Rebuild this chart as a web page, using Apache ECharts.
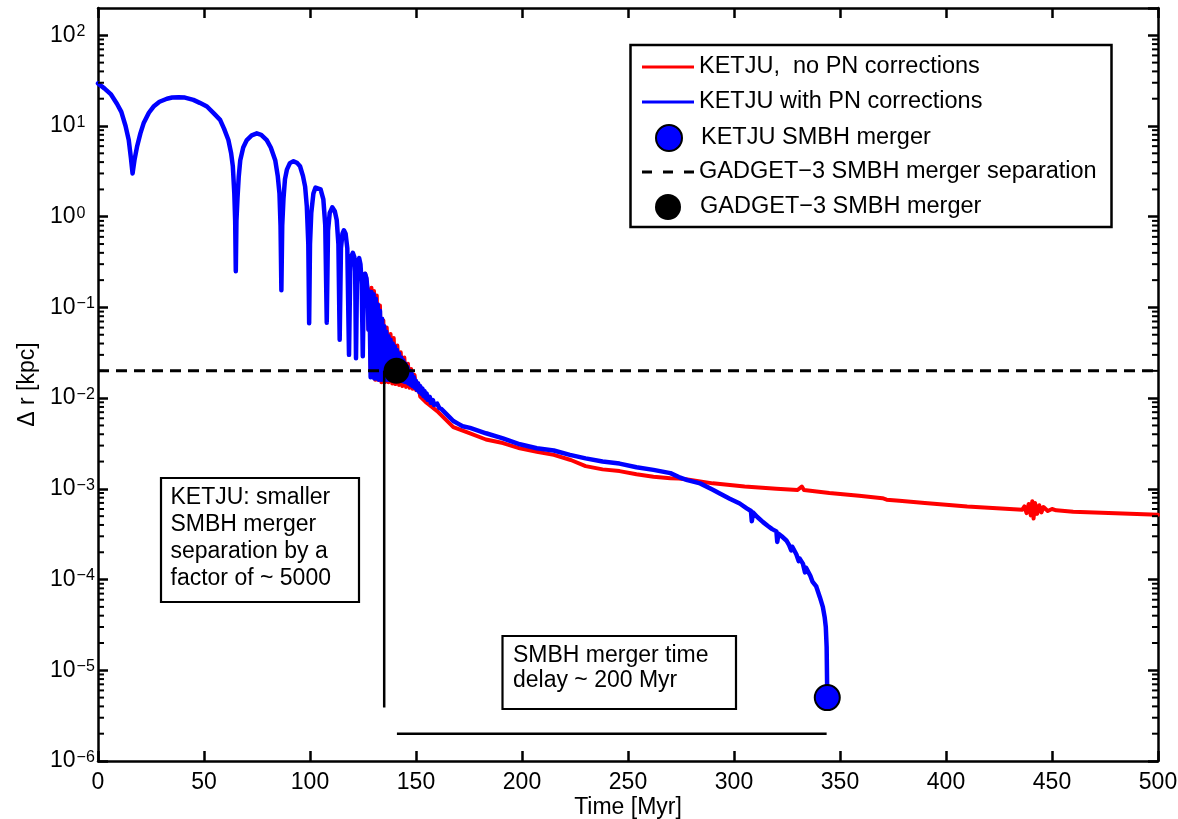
<!DOCTYPE html>
<html><head><meta charset="utf-8">
<script src="https://cdn.jsdelivr.net/npm/echarts@6/dist/echarts.min.js"></script>
<style>html,body{margin:0;padding:0;background:#fff}#c{width:1178px;height:819px}</style>
</head><body><div id="c"></div>
<script>
// ---------- data ----------
const xTicks = [0, 50, 100, 150, 200, 250, 300, 350, 400, 450, 500];
const yRange = [1e-6, 200];

// KETJU with PN corrections (blue)
const blueT = [0,3,6,9,11,13,14.5,15.5,16.3,17.2,18.4,20,21.5,24,26.2,29,32.5,35,38,41,45,48,51.4,55,57.6,59.5,61.5,62.8,63.6,64.3,64.7,65.0,65.3,65.8,66.4,67.1,68.5,70.2,72.5,74.9,77,79.6,81.5,83.6,84.8,85.6,86.1,86.5,86.9,87.5,88.2,89.1,90.5,92.2,94,95.3,96.7,97.7,98.5,99.2,99.6,100.0,100.6,101.6,102.6,103.5,105.0,106.3,107.2,107.9,108.5,109.3,110.5,111.7,112.6,113.4,114.0,114.6,115.3,116.0,116.8,117.6,118.4,119.0,119.6,120.2,120.9,121.3,121.7,122.2,122.7,123.2,123.8,124.4,124.9,125.4,126.0,126.6,127.2,127.6,128.0,
  128.6,129.0,129.5,130.0,130.5,131.0,131.5,132.0,132.5,133.0,133.5,134.0,134.5,135.0,135.5,136.0,136.5,137.0,137.5,138.0,138.5,139.0,139.5,140.0,140.5,141.0,141.5,142.0,142.5,143.0,143.5,144.0,144.5,145.0,145.5,146.0,146.5,147.0,147.5,148.0,148.5,149.0,149.5,150.0,150.5,151.0,151.5,152.0,
  152.5,153,153.5,154,154.5,155,155.5,156.5,157,158,158.5,160,161,162,164,166,167.6,170,172,175.5,183,191,199,207,215,222.6,230,238,246,254,262,270,274,278,284,290,293.3,298,302.7,306,308,308.4,309,311,313.7,316,318,320,320.4,321,322.5,324.7,326,327,327.5,329.4,330.5,331,332.5,333.5,334,336,337,338.8,340.5,341.9,342.8,343.3,343.7,344.0];
const blueV = [29.5,26,22.5,17.5,14.3,10,7,4.5,3.0,4.2,5.9,8.3,10.7,14,16.4,18.5,20,20.6,20.8,20.6,19.4,18,16.4,13.5,11.7,9.3,7.0,5.0,3.6,1.8,0.9,0.25,0.9,1.6,2.8,4.2,5.8,7.0,7.9,8.3,8.0,7.0,5.8,4.2,2.8,1.8,0.8,0.155,0.8,1.6,2.6,3.3,3.9,4.1,3.9,3.6,2.8,2.15,1.3,0.5,0.067,0.5,1.1,1.8,2.1,2.2,2.0,1.55,0.8,0.068,0.7,1.1,1.27,1.15,0.92,0.5,0.044,0.45,0.65,0.71,0.65,0.45,0.030,0.28,0.37,0.40,0.36,0.25,0.0275,0.25,0.33,0.35,0.30,0.18,0.029,0.18,0.235,0.21,0.15,0.057,0.15,
  0.017,0.148,0.017,0.14,0.0165,0.125,0.0165,0.108,0.016,0.092,0.016,0.075,0.016,0.062,0.016,0.054,0.016,0.048,0.016,0.044,0.016,0.040,0.016,0.037,0.016,0.034,0.0158,0.031,0.0156,0.028,0.0155,0.026,0.0152,0.024,0.015,0.022,0.0145,0.020,0.014,0.0185,0.0135,0.017,0.013,0.0155,0.0123,0.0145,0.0117,0.0135,
  0.0112,0.0128,0.0106,0.012,0.0101,0.0113,0.0096,0.0103,0.0089,0.0095,0.0084,0.0087,0.0078,0.0076,0.0068,0.0061,0.0056,0.0052,0.0049,0.0047,0.0041,0.0036,0.0031,0.0028,0.00265,0.00237,0.00217,0.002,0.0019,0.00173,0.00162,0.00149,0.00135,0.00125,0.00115,0.00098,0.00089,0.00078,0.00069,0.00061,0.00057,0.00044,0.00055,0.00049,0.00043,0.00039,0.00036,0.00034,0.00026,0.00032,0.0003,0.00027,0.00024,0.00021,0.00023,0.00019,0.00016,0.00017,0.00015,0.00012,0.000135,0.00011,0.000095,0.000084,0.000064,0.00005,0.000038,0.00003,0.000018,0.000005];

// KETJU, no PN corrections (red) – identical to blue before ~126 Myr
const redT = [126.0,126.6,127.2,127.6,128.0,128.6,129.0,129.6,130.2,130.8,131.5,132.2,133.0,133.7,134.6,135.3,136.2,137,138,138.8,139.5,140.3,141.2,142,142.8,143.6,144.5,145.3,146.2,147,147.7,148.5,149.3,150.1,151,152,155,160,167.6,175.5,183,191,199,207,215,223,230,238,246,254,262,270,274,278,290,305,320,330,332,333,345,359,370,372,378,390,400,410,420,430,436,437,438,439,440,440.7,441.3,442,443,444,445,446,448,450,452,460,470,480,490,500];
const redV = [0.235,0.21,0.15,0.057,0.155,0.02,0.165,0.017,0.152,0.016,0.135,0.016,0.105,0.015,0.072,0.015,0.06,0.015,0.051,0.0145,0.046,0.0143,0.038,0.014,0.032,0.0136,0.028,0.0133,0.024,0.013,0.021,0.0127,0.018,0.0122,0.0145,0.0104,0.0089,0.0072,0.0048,0.0041,0.0035,0.0032,0.0028,0.00257,0.00237,0.00208,0.00178,0.00164,0.00157,0.00145,0.00136,0.00131,0.0013,0.00127,0.00115,0.00106,0.001,0.00097,0.00106,0.00097,0.0009,0.00084,0.00079,0.00076,0.00074,0.0007,0.00067,0.00064,0.00062,0.0006,0.00059,0.00064,0.00054,0.00068,0.00051,0.00073,0.00047,0.0007,0.00053,0.00066,0.00055,0.00063,0.00057,0.0006,0.00058,0.00056,0.00055,0.00054,0.00053,0.00052];

const gadgetSeparation = 0.02;           // dashed line level (kpc)
const gadgetMerger = [140.8, 0.02];      // black dot
const ketjuMerger = [344.0, 5e-6];       // blue dot
const separationBar = [135, 3.9e-6, 0.02];   // t, from, to
const delayBar = [141, 343.7, 2e-6];         // from, to, level

const names = ['KETJU,  no PN corrections', 'KETJU with PN corrections', 'KETJU SMBH merger',
               'GADGET\u22123 SMBH merger separation', 'GADGET\u22123 SMBH merger'];

// ---------- chart ----------
const FONT = '"Liberation Sans", Arial, Helvetica, sans-serif';
const BLK = '#000';
const zip = (a, b) => a.map((t, i) => [t, b[i]]);

const minorVals = [];
for (let n = -6; n <= 1; n++) for (let k = 2; k <= 9; k++) minorVals.push(k * Math.pow(10, n));

const axisLineStyle = {color: BLK, width: 2.5};
function supLabel(v) {
  const lg = Math.log10(v), e = Math.round(lg);
  if (Math.abs(lg - e) > 0.01 || v > 150) return '';
  return '{b|10}{s|' + (e < 0 ? '\u2212' + (-e) : String(e)) + '}';
}

const legendText = {fontFamily: FONT, fontSize: 23.5, color: BLK, lineHeight: 26};
const legendBase = {padding: 0, itemGap: 0, selectedMode: false, orient: 'horizontal'};
const rowC = [67, 102, 137, 172, 207];

const option = {
  animation: false,
  backgroundColor: '#fff',
  textStyle: {fontFamily: FONT},
  grid: {left: 98, right: 20, top: 8, bottom: 58, containLabel: false, outerBoundsMode: 'none'},
  xAxis: [
    {type: 'value', min: 0, max: 500, interval: 50, position: 'bottom',
     name: 'Time [Myr]', nameLocation: 'middle', nameGap: 35, nameMoveOverlap: false,
     nameTextStyle: {fontSize: 23, color: BLK, fontFamily: FONT},
     axisLine: {show: true, onZero: false, lineStyle: axisLineStyle},
     axisTick: {show: true, inside: true, length: 10, lineStyle: {color: BLK, width: 2.5}},
     axisLabel: {show: true, margin: 10, fontSize: 23, color: BLK, fontFamily: FONT},
     splitLine: {show: false}},
    {type: 'value', min: 0, max: 500, interval: 50, position: 'top',
     axisLine: {show: true, onZero: false, lineStyle: axisLineStyle},
     axisTick: {show: true, inside: true, length: 10, lineStyle: {color: BLK, width: 2.5}},
     axisLabel: {show: false}, splitLine: {show: false}}
  ],
  yAxis: [
    {type: 'log', logBase: 10, min: yRange[0], max: yRange[1], splitNumber: 10, position: 'left',
     name: '\u0394 r [kpc]', nameLocation: 'middle', nameGap: 59, nameMoveOverlap: false,
     nameTextStyle: {fontSize: 23, color: BLK, fontFamily: FONT},
     axisLine: {show: true, onZero: false, lineStyle: axisLineStyle},
     axisTick: {show: true, inside: true, length: 10, lineStyle: {color: BLK, width: 2.5}},
     axisLabel: {show: true, align: 'left', margin: 48, showMaxLabel: false, formatter: supLabel,
       rich: {
         b: {fontSize: 23, fontFamily: FONT, color: BLK, lineHeight: 23, padding: [3, 0, 0, 0], verticalAlign: 'bottom'},
         s: {fontSize: 16, fontFamily: FONT, color: BLK, lineHeight: 16, padding: [0, 0, 0, 1], verticalAlign: 'top'}
       }},
     splitLine: {show: false}},
    {type: 'log', logBase: 10, min: yRange[0], max: yRange[1], splitNumber: 10, position: 'right',
     axisLine: {show: true, onZero: false, lineStyle: axisLineStyle},
     axisTick: {show: true, inside: true, length: 10, lineStyle: {color: BLK, width: 2.5}},
     axisLabel: {show: false}, splitLine: {show: false}}
  ],
  legend: [
    Object.assign({}, legendBase, {left: 642, top: rowC[0] - 13, itemWidth: 52, itemHeight: 3, textStyle: legendText,
      data: [{name: names[0], icon: 'rect'}]}),
    Object.assign({}, legendBase, {left: 642, top: rowC[1] - 13, itemWidth: 52, itemHeight: 3, textStyle: legendText,
      data: [{name: names[1], icon: 'rect'}]}),
    Object.assign({}, legendBase, {left: 655, top: rowC[2] - 13, itemWidth: 26, itemHeight: 26,
      textStyle: Object.assign({}, legendText, {padding: [0, 0, 0, 14]}),
      data: [{name: names[2], icon: 'circle'}]}),
    Object.assign({}, legendBase, {left: 642, top: rowC[3] - 13, itemWidth: 52, itemHeight: 3, textStyle: legendText,
      data: [{name: names[3], icon: 'path://M0,0h10v3h-10zM21,0h10v3h-10zM42,0h10v3h-10z'}]}),
    Object.assign({}, legendBase, {left: 655, top: rowC[4] - 13, itemWidth: 26, itemHeight: 26,
      textStyle: Object.assign({}, legendText, {padding: [0, 0, 0, 14]}),
      data: [{name: names[4], icon: 'circle'}]})
  ],
  graphic: [
    {type: 'rect', z: 3, shape: {x: 630.5, y: 45, width: 481, height: 182},
     style: {fill: '#fff', stroke: BLK, lineWidth: 2.5}},
    {type: 'group', z: 5, children: [
      {type: 'rect', shape: {x: 161, y: 478, width: 198, height: 124}, style: {fill: '#fff', stroke: BLK, lineWidth: 2.2}},
      {type: 'text', x: 170.5, y: 484, style: {text: 'KETJU: smaller\nSMBH merger\nseparation by a\nfactor of ~ 5000',
        fontSize: 23, fontFamily: FONT, fill: BLK, lineHeight: 27, verticalAlign: 'top'}}
    ]},
    {type: 'group', z: 5, children: [
      {type: 'rect', shape: {x: 502.5, y: 636, width: 233.5, height: 73}, style: {fill: '#fff', stroke: BLK, lineWidth: 2.2}},
      {type: 'text', x: 513, y: 643, style: {text: 'SMBH merger time\ndelay ~ 200 Myr',
        fontSize: 23, fontFamily: FONT, fill: BLK, lineHeight: 25, verticalAlign: 'top'}}
    ]}
  ],
  series: [
    {name: names[0], type: 'line', color: '#ff0000', data: zip(redT, redV), showSymbol: false, symbol: 'none',
     lineStyle: {color: '#ff0000', width: 4, join: 'round', cap: 'round'}, z: 2, silent: true},
    {name: names[1], type: 'line', color: '#0000ff', data: zip(blueT, blueV), showSymbol: false, symbol: 'none',
     lineStyle: {color: '#0000ff', width: 4.5, join: 'round', cap: 'round'}, z: 3, silent: true},
    {name: names[3], type: 'line', color: BLK, itemStyle: {color: BLK},
     data: [[0, gadgetSeparation], [500, gadgetSeparation]], showSymbol: false, symbol: 'none',
     lineStyle: {color: BLK, width: 3, type: [11, 7]}, z: 4, silent: true},
    {type: 'line', data: [[separationBar[0], separationBar[1]], [separationBar[0], separationBar[2]]],
     showSymbol: false, symbol: 'none', lineStyle: {color: BLK, width: 2.5}, z: 4, silent: true},
    {type: 'line', data: [[delayBar[0], delayBar[2]], [delayBar[1], delayBar[2]]],
     showSymbol: false, symbol: 'none', lineStyle: {color: BLK, width: 2.5}, z: 4, silent: true},
    {name: names[4], type: 'scatter', data: [gadgetMerger], symbolSize: 26,
     itemStyle: {color: BLK, opacity: 1}, z: 6, silent: true},
    {name: names[2], type: 'scatter', data: [ketjuMerger], symbolSize: 25,
     itemStyle: {color: '#0000ff', borderColor: BLK, borderWidth: 2, opacity: 1}, z: 6, silent: true},
    {type: 'custom', silent: true, z: 7, data: minorVals.map(v => [0, v]),
     renderItem: function (params, api) {
       const v = api.value(1);
       const pL = api.coord([0, v]), pR = api.coord([500, v]);
       return {type: 'group', children: [
         {type: 'line', shape: {x1: pL[0], y1: pL[1], x2: pL[0] + 6, y2: pL[1]}, style: {stroke: BLK, lineWidth: 2}},
         {type: 'line', shape: {x1: pR[0], y1: pR[1], x2: pR[0] - 6, y2: pR[1]}, style: {stroke: BLK, lineWidth: 2}}
       ]};
     }}
  ]
};
const chart = echarts.init(document.getElementById('c'));
chart.setOption(option);
</script></body></html>
